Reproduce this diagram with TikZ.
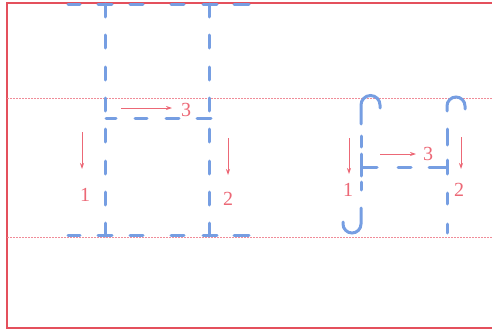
\documentclass[tikz,border=0pt]{standalone}
\usepackage{fontspec}
\setmainfont{Liberation Serif}
\usetikzlibrary{arrows.meta}
\definecolor{bl}{RGB}{118,158,226}
\definecolor{rd}{RGB}{228,80,92}
\definecolor{pk}{RGB}{240,140,152}
\definecolor{tx}{RGB}{236,104,118}
\begin{document}
\begin{tikzpicture}[x=1pt,y=-1pt,
  bdash/.style={draw=bl,line width=3pt,line cap=round},
  frameline/.style={draw=rd,line width=1.2pt},
  guide/.style={draw=pk,line width=0.7pt,dash pattern=on 2pt off 1pt},
  redarrow/.style={draw=tx,line width=0.8pt,-{Stealth[length=6pt,width=4pt]}},
  numlabel/.style={text=tx,font=\fontsize{20}{20}\selectfont,inner sep=0pt}]
\useasboundingbox (0,0) rectangle (492,332);
% frame
\draw[frameline] (492,3) -- (7,3) -- (7,328) -- (492,328);
% guide lines
\draw[guide] (7,98) -- (492,98);
\draw[guide] (7,237) -- (492,237);
% left figure: verticals
\foreach \xx in {105,209}{
  \foreach \s in {4,35,67,98,129,161,192,223}
    \draw[bdash] (\xx,\s) -- (\xx,\s+13);
}
% top and bottom horizontals
\foreach \yy in {4,235}{
  \foreach \a/\b in {68/80,98/112,130/143,171/184,203/217,234/249}
    \draw[bdash] (\a,\yy) -- (\b,\yy);
}
% middle horizontal
\foreach \a/\b in {106/116,135/147,166/179,197/211}
  \draw[bdash] (\a,118) -- (\b,118);
% left arrows and labels
\draw[redarrow] (121,108) -- (172,108);
\node[numlabel] (l3) at (186,110) {3};
\draw[redarrow] (82,132) -- (82,169);
\node[numlabel] (l1) at (85,195) {1};
\draw[redarrow] (228,138) -- (228,175);
\node[numlabel] (l2) at (228,199) {2};
% right figure
\draw[bdash] (361,124) -- (361,105) arc[start angle=180,end angle=360,radius=9.5] -- ++(0,3);
\foreach \a/\b in {136/147,154/176,182/190}
  \draw[bdash] (361,\a) -- (361,\b);
\draw[bdash] (361,208) -- (361,224) arc[start angle=0,end angle=180,radius=9] -- ++(0,-2);
\draw[bdash] (447,111) -- (447,106) arc[start angle=180,end angle=360,radius=9] -- ++(0,3);
\foreach \a/\b in {129/145,160/174,193/204,224/233}
  \draw[bdash] (447,\a) -- (447,\b);
\foreach \a/\b in {362/377,398/411,429/447}
  \draw[bdash] (\a,167) -- (\b,167);
\draw[redarrow] (380,154) -- (416,154);
\node[numlabel] (r3) at (428,154) {3};
\draw[redarrow] (349,138) -- (349,174);
\node[numlabel] (r1) at (348,190) {1};
\draw[redarrow] (461,137) -- (461,169);
\node[numlabel] (r2) at (459,190) {2};
\end{tikzpicture}
\end{document}
